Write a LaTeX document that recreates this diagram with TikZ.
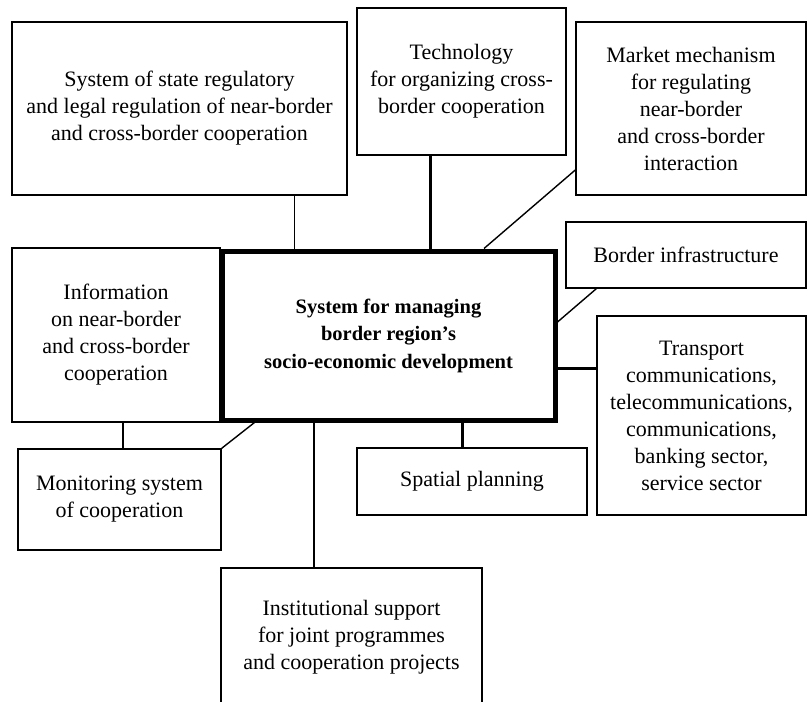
\documentclass[tikz,border=0pt]{standalone}
\usepackage{fontspec}
\setmainfont{Liberation Serif}
\usepackage{tikz}
\usepackage{xcolor}

\begin{document}
\begin{tikzpicture}[x=1pt, y=-1pt,
  blk/.style 2 args={rectangle, draw, line width=1.4pt, minimum width=#1, minimum height=#2, inner sep=0pt, align=center, font=\fontsize{22}{27}\selectfont},
  core/.style={rectangle, draw, line width=5pt, minimum width=333pt, minimum height=169pt, inner sep=0pt, align=center, font=\fontsize{20.5}{27.5}\selectfont\bfseries},
  link/.style={line width=1.4pt},
  thicklink/.style={line width=3pt}]
  \useasboundingbox (0,0) rectangle (808,701);
  \node[core] (core) at (388.5,335.5) {System for managing\\border region's\\socio-economic development};
  \node[blk={335pt}{173pt}] (reg) at (179.5,108.5) {System of state regulatory\\and legal regulation of near-border\\and cross-border cooperation};
  \node[blk={209pt}{147pt}] (tech) at (461.5,81.5) {Technology\\for organizing cross-\\border cooperation};
  \node[blk={230pt}{173pt}] (mkt) at (691,108.5) {Market mechanism\\for regulating\\near-border\\and cross-border\\interaction};
  \node[blk={240pt}{66pt}] (infra) at (686,255) {Border infrastructure};
  \node[blk={209pt}{199pt}] (trans) at (701.5,415.5) {Transport\\communications,\\telecommunications,\\communications,\\banking sector,\\service sector};
  \node[blk={208pt}{174pt}] (info) at (116,335) {Information\\on near-border\\and cross-border\\cooperation};
  \node[blk={203pt}{101pt}] (mon) at (119.5,499.5) {Monitoring system\\of cooperation};
  \node[blk={230pt}{67pt}] (spat) at (472,481.5) {Spatial planning};
  \node[blk={261pt}{138pt}] (inst) at (351.5,637) {Institutional support\\for joint programmes\\and cooperation projects};
  % links to the core
  \draw[link] ([xshift=-53pt]reg.south east) -- ([xshift=-53pt]reg.south east |- core.north);
  \draw[thicklink] ([xshift=-31.5pt]tech.south) -- ([xshift=-31.5pt]tech.south |- core.north);
  \draw[link] ([yshift=-61.5pt]mkt.west) -- ([xshift=95.5pt]core.north);
  \draw[link] ([xshift=31pt]infra.south west) -- ([yshift=13.5pt]core.east);
  \draw[thicklink] ([yshift=-32.5pt]core.east) -- ([yshift=-32.5pt]core.east -| trans.west);
  \draw[thicklink] ([xshift=73.5pt]core.south) -- ([xshift=73.5pt]core.south |- spat.north);
  \draw[link] ([xshift=-74.5pt]core.south) -- ([xshift=-74.5pt]core.south |- inst.north);
  \draw[link] ([xshift=35pt]core.south west) -- (mon.north east);
  \draw[link] ([xshift=7pt]info.south) -- ([xshift=7pt]info.south |- mon.north);
\end{tikzpicture}
\end{document}
